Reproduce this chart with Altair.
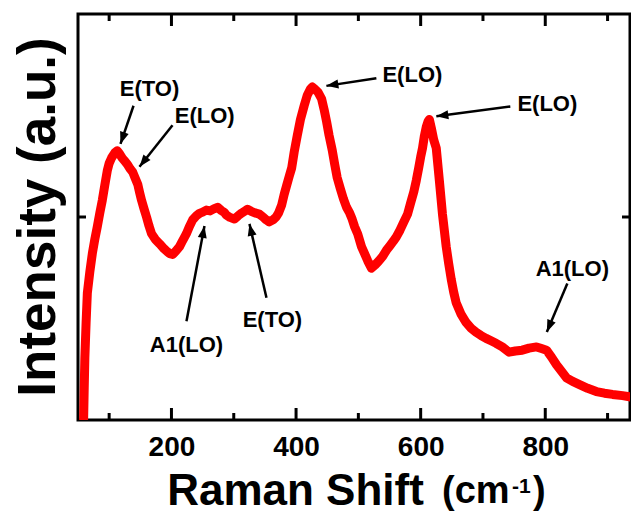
import math
import altair as alt
import pandas as pd

# ---------------- data ----------------
raman_shift = [57, 59, 60, 61, 63, 65, 69, 73, 77, 81, 85, 89, 93, 97, 100, 104, 109, 113, 117, 121,
               125, 130, 134, 138, 142, 146, 149, 152, 156, 160, 164, 168, 174, 181, 188, 193, 197, 202,
               207, 213, 218, 224, 229, 234, 240, 245, 250, 256, 262, 268, 274, 280, 285, 288, 294, 301,
               307, 313, 318, 322, 328, 334, 341, 347, 352, 357, 363, 368, 372, 377, 381, 385, 389, 393,
               397, 402, 407, 413, 418, 423, 426, 430, 435, 441, 445, 449, 453, 458, 462, 466, 471, 476,
               481, 486, 490, 494, 499, 505, 510, 515, 521, 527, 533, 539, 545, 551, 556, 561, 567, 573,
               579, 584, 589, 593, 597, 600, 603, 606, 609, 612, 614, 617, 621, 625, 630, 635, 641, 645,
               649, 653, 657, 665, 673, 681, 689, 697, 705, 713, 721, 731, 742, 752, 763, 774, 786, 794,
               802, 810, 818, 826, 834, 844, 855, 868, 882, 895, 908, 924, 940, 950]
intensity = [-20, 0, 80, 153, 240, 313, 365, 410, 445, 476, 510, 541, 578, 614, 632, 646, 658, 663, 655, 645,
             638, 628, 618, 610, 595, 580, 560, 541, 520, 500, 478, 459, 445, 434, 422, 415, 410, 408,
             416, 427, 442, 459, 477, 493, 503, 509, 512, 517, 515, 520, 524, 516, 511, 505, 499, 495,
             503, 510, 515, 519, 514, 510, 507, 500, 493, 488, 493, 500, 510, 530, 556, 578, 600, 621,
             660, 701, 740, 774, 800, 815, 820, 815, 808, 791, 765, 735, 701, 665, 630, 597, 570, 545,
             524, 510, 495, 476, 458, 427, 410, 392, 374, 382, 392, 403, 418, 430, 440, 451, 468, 488,
             507, 535, 562, 590, 622, 648, 670, 700, 722, 736, 740, 720, 690, 670, 590, 507, 427, 385,
             347, 315, 289, 260, 240, 226, 216, 208, 201, 195, 189, 180, 167, 170, 172, 177, 180, 176,
             172, 155, 136, 120, 104, 95, 87, 78, 70, 66, 63, 60, 56, 54]

x_major_ticks = [200, 400, 600, 800]
x_minor_ticks = [100, 300, 500, 700, 900]
y_ticks = [500]

label_text = ["E(TO)", "E(LO)", "E(LO)", "E(LO)", "A1(LO)", "E(TO)", "A1(LO)"]
label_x = [164.8, 253.3, 586.7, 803.3, 224.1, 362.0, 843.4]
label_y = [798.5, 730.6, 832.5, 762.1, 167.5, 228.2, 354.4]
arrow_x_from = [139.1, 201.7, 528.9, 743.9, 224.1, 352.5, 835.4]
arrow_y_from = [774, 726, 842, 772, 243, 301, 336]
arrow_x_to = [118.2, 148.7, 448.7, 625.2, 253.0, 325.2, 802.5]
arrow_y_to = [680, 624, 823, 748, 478, 483, 217]

# ---------------- layout ----------------
W, H = 552, 406
XMIN, XMAX = 50, 936
YMIN, YMAX = 0, 1000
FONT = "Liberation Sans"

px_x = W / (XMAX - XMIN)
px_y = H / (YMAX - YMIN)

spec_df = pd.DataFrame({"shift": raman_shift, "intensity": intensity})
lab_df = pd.DataFrame({"text": label_text, "x": label_x, "y": label_y})
arr_df = pd.DataFrame({"x": arrow_x_from, "y": arrow_y_from, "x2": arrow_x_to, "y2": arrow_y_to})
arr_df["angle"] = [
    math.degrees(math.atan2((b - a) * px_x, (d - c) * px_y)) % 360
    for a, b, c, d in zip(arrow_x_from, arrow_x_to, arrow_y_from, arrow_y_to)
]

xs = alt.Scale(domain=[XMIN, XMAX], nice=False, zero=False)
ys = alt.Scale(domain=[YMIN, YMAX], nice=False, zero=False)
x_axis = alt.Axis(values=x_major_ticks, title=None, ticks=False, domain=False, grid=False,
                  labelFont=FONT, labelFontWeight="bold", labelFontSize=28, labelColor="black",
                  labelPadding=13, format="d")

line = alt.Chart(spec_df).mark_line(color="#ff0000", strokeWidth=9, clip=True,
                                    strokeJoin="round").encode(
    x=alt.X("shift:Q", scale=xs, axis=x_axis),
    y=alt.Y("intensity:Q", scale=ys, axis=None),
    order="shift:Q",
)

maj_df = pd.DataFrame({"t": x_major_ticks})
min_df = pd.DataFrame({"t": x_minor_ticks})
yt_df = pd.DataFrame({"t": y_ticks})


def xticks(df, length):
    bottom = alt.Chart(df).mark_rule(color="black", strokeWidth=3).encode(
        x=alt.X("t:Q", scale=xs, axis=x_axis), y=alt.value(H), y2=alt.value(H - length))
    top = alt.Chart(df).mark_rule(color="black", strokeWidth=3).encode(
        x=alt.X("t:Q", scale=xs, axis=x_axis), y=alt.value(0), y2=alt.value(length))
    return [bottom, top]


ytick_l = alt.Chart(yt_df).mark_rule(color="black", strokeWidth=3).encode(
    y=alt.Y("t:Q", scale=ys, axis=None), x=alt.value(0), x2=alt.value(8))
ytick_r = alt.Chart(yt_df).mark_rule(color="black", strokeWidth=3).encode(
    y=alt.Y("t:Q", scale=ys, axis=None), x=alt.value(W), x2=alt.value(W - 8))

shafts = alt.Chart(arr_df).mark_rule(color="black", strokeWidth=2.5).encode(
    x=alt.X("x:Q", scale=xs, axis=x_axis), y=alt.Y("y:Q", scale=ys, axis=None),
    x2="x2:Q", y2="y2:Q")
heads = alt.Chart(arr_df).mark_point(shape="M0,0L-0.75,2L0.75,2Z", filled=True, color="black",
                                     opacity=1, size=144, strokeWidth=0).encode(
    x=alt.X("x2:Q", scale=xs, axis=x_axis), y=alt.Y("y2:Q", scale=ys, axis=None),
    angle=alt.Angle("angle:Q", scale=None))

labels = alt.Chart(lab_df).mark_text(font=FONT, fontWeight="bold", fontSize=22, color="black",
                                     align="center", baseline="alphabetic").encode(
    x=alt.X("x:Q", scale=xs, axis=x_axis), y=alt.Y("y:Q", scale=ys, axis=None), text="text:N")

one = pd.DataFrame({"a": [0]})


def title_text(txt, x, y, size, align="left", angle=0):
    kw = dict(text=txt, font=FONT, fontWeight="bold", fontSize=size, color="black",
              align=align, baseline="alphabetic")
    if angle:
        kw["angle"] = angle
    return alt.Chart(one).mark_text(**kw).encode(x=alt.value(x), y=alt.value(y))


x_title = [
    title_text("Raman Shift", 217.5, 491, 44, align="center"),
    title_text("(cm", 364, 489, 38),
    title_text("-1", 434, 479, 21),
    title_text(")", 455, 489, 38),
]
y_title = title_text("Intensity (a.u.)", -23, 203, 53, align="center", angle=270)

chart = alt.layer(
    line, *xticks(maj_df, 12), *xticks(min_df, 7), ytick_l, ytick_r,
    shafts, heads, labels, *x_title, y_title,
).properties(
    width=W, height=H,
    autosize=alt.AutoSizeParams(type="none"),
    padding={"left": 70, "top": 6, "right": 1, "bottom": 94},
).configure_view(stroke="black", strokeWidth=3)

chart.save("out.html", embed_options={"renderer": "svg", "actions": False})
